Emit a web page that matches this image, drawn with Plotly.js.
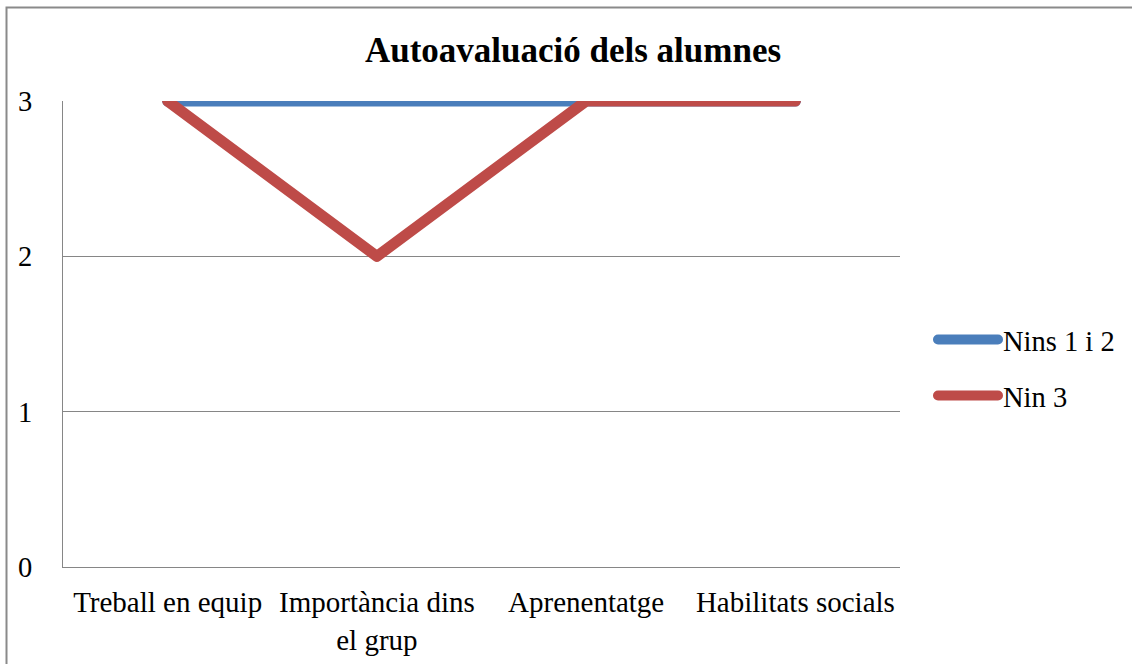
<!DOCTYPE html>
<html>
<head>
<meta charset="utf-8">
<script src="https://cdn.plot.ly/plotly-3.0.1.min.js"></script>
<style>
html,body{margin:0;padding:0;background:#fff;}
#chart{width:1132px;height:664px;}
#chart .scatterlayer path.js-line, #chart .legend path.js-line{stroke-linecap:round;stroke-linejoin:round;}
</style>
</head>
<body>
<div id="chart"></div>
<script>
const categories = ["Treball en equip", "Importància dins el grup", "Aprenentatge", "Habilitats socials"];
const tickLabels = ["Treball en equip", "Importància dins<br>el grup", "Aprenentatge", "Habilitats socials"];
const nins12 = [3, 3, 3, 3];
const nin3 = [3, 2, 3, 3];
const yTicks = [0, 1, 2, 3];

(function () {
  const W = 1132, H = 664;
  const mL = 63, mR = 232, mT = 101, mB = 97;
  const pw = W - mL - mR, ph = H - mT - mB;
  const px = v => (v - mL) / pw;
  const py = v => (H - mB - v) / ph;

  const serifFamily = "Liberation Serif";
  const f = (size) => ({family: serifFamily, size: size, color: "#000000"});

  const traces = [
    {x: categories, y: nins12, name: "Nins 1 i 2", legendgroup: "a", type: "scatter", mode: "lines",
     line: {color: "#4A7EBB", width: 11}},
    {x: categories, y: nin3, name: "Nin 3", legendgroup: "b", type: "scatter", mode: "lines",
     line: {color: "#BE4B48", width: 11}}
  ];

  const layout = {
    width: W, height: H,
    margin: {l: mL, r: mR, t: mT, b: mB, pad: 0},
    paper_bgcolor: "#ffffff", plot_bgcolor: "#ffffff",
    font: f(28.5),
    title: {text: "<b>Autoavaluació dels alumnes</b>", font: f(35),
            xref: "container", x: 573 / W, xanchor: "center", yref: "container", y: 1 - 50 / H, yanchor: "middle"},
    xaxis: {type: "category", tickvals: categories, ticktext: tickLabels, range: [-0.5, 3.5],
            showgrid: false, showline: true, linecolor: "#868686", linewidth: 1, ticks: "",
            ticklabelstandoff: 9, tickfont: f(29), zeroline: false},
    yaxis: {range: [0, 3], tickvals: yTicks, showgrid: true, gridcolor: "#868686", gridwidth: 1,
            showline: true, linecolor: "#868686", linewidth: 1, ticks: "", zeroline: false,
            ticklabelstandoff: 24, tickfont: f(28.5)},
    showlegend: true,
    legend: {x: px(933), y: py(368), xanchor: "left", yanchor: "middle", bgcolor: "rgba(0,0,0,0)",
             font: f(28.5), itemwidth: 60, traceorder: "grouped", tracegroupgap: 16},
    shapes: [
      {type: "rect", xref: "paper", yref: "paper", x0: px(6.5), x1: px(W + 20), y0: py(H + 20), y1: py(7.5),
       line: {color: "#8a8a8a", width: 2}, fillcolor: "rgba(0,0,0,0)", layer: "below"}
    ]
  };

  Plotly.newPlot("chart", traces, layout, {displayModeBar: false, staticPlot: true});
})();
</script>
</body>
</html>
